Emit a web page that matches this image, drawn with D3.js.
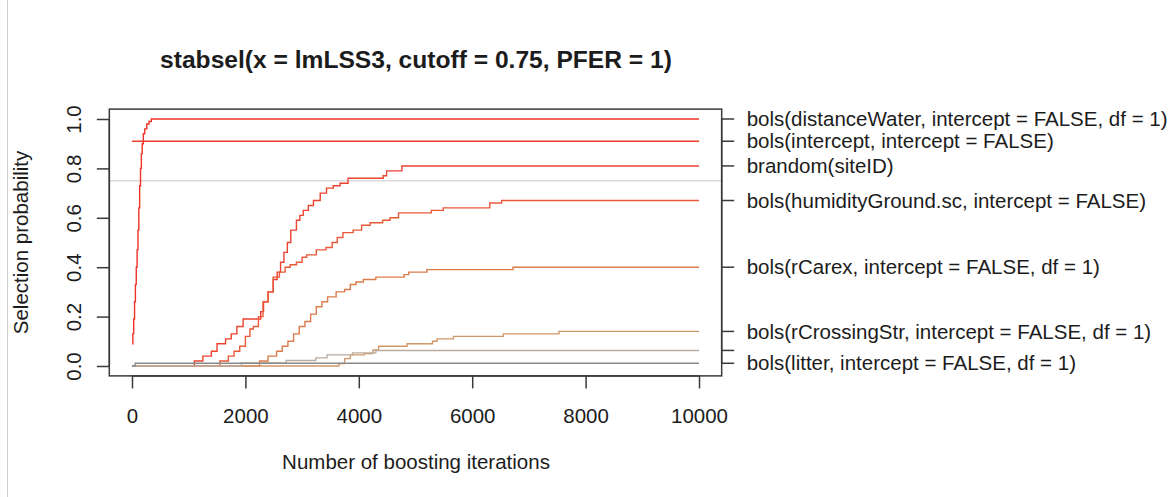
<!DOCTYPE html>
<html>
<head>
<meta charset="utf-8">
<script src="https://cdn.jsdelivr.net/npm/d3@7"></script>
<style>
  body { margin: 0; background: #fff; }
  svg { display: block; font-family: "Liberation Sans", Arial, Helvetica, sans-serif; }
</style>
</head>
<body>
<svg id="chart" width="1176" height="497"></svg>
<script>
// ---- text ----
const titleText = "stabsel(x = lmLSS3, cutoff = 0.75, PFER = 1)";
const xLabel = "Number of boosting iterations";
const yLabel = "Selection probability";

// ---- axes ----
const xTicks = [0, 2000, 4000, 6000, 8000, 10000];
const yTicks = [0, 0.2, 0.4, 0.6, 0.8, 1.0];
const nIter = 10000;
const cutoff = 0.75;

// ---- base-learner labels on the right axis ("" = label dropped by overlap) ----
const learnerLabels = [
  "bols(distanceWater, intercept = FALSE, df = 1)",
  "bols(intercept, intercept = FALSE)",
  "brandom(siteID)",
  "bols(humidityGround.sc, intercept = FALSE)",
  "bols(rCarex, intercept = FALSE, df = 1)",
  "bols(rCrossingStr, intercept = FALSE, df = 1)",
  "",
  "bols(litter, intercept = FALSE, df = 1)"
];

// hcl(h = 40, l = 50, c ~ max selection prob)
const pathColors = [
  "#ef3328", "#ef3a2d", "#ec4330", "#ea5a38",
  "#dc7c4a", "#cf9868", "#bcab9f", "#8a8a8a"
];

// ---- selection paths: [iteration, probability] at each change ----
const pathDistanceWater = [[1,0.09],[15,0.13],[30,0.19],[45,0.26],[60,0.33],[75,0.40],[90,0.47],[105,0.55],[120,0.64],[135,0.73],[150,0.80],[165,0.86],[180,0.90],[200,0.94],[225,0.96],[260,0.98],[300,0.99],[340,1.0]];
const pathIntercept = [[1,0.91]];
const pathSiteID = [[1,0],[1100,0.02],[1250,0.04],[1400,0.06],[1500,0.09],[1650,0.11],[1750,0.13],[1850,0.16],[1960,0.19],[2270,0.22],[2320,0.26],[2400,0.30],[2490,0.35],[2560,0.38],[2620,0.42],[2680,0.46],[2740,0.50],[2800,0.55],[2900,0.59],[2960,0.61],[3020,0.63],[3110,0.65],[3200,0.67],[3320,0.70],[3430,0.72],[3550,0.73],[3670,0.74],[3810,0.76],[4430,0.77],[4490,0.79],[4610,0.79],[4760,0.81]];
const pathHumidity = [[1,0],[1550,0.02],[1700,0.04],[1800,0.06],[1900,0.08],[2000,0.12],[2080,0.15],[2140,0.16],[2230,0.20],[2310,0.26],[2400,0.30],[2490,0.36],[2600,0.38],[2700,0.40],[2790,0.41],[2900,0.42],[3000,0.44],[3080,0.45],[3250,0.47],[3420,0.48],[3530,0.50],[3620,0.52],[3720,0.54],[3900,0.55],[4050,0.57],[4200,0.58],[4420,0.59],[4550,0.60],[4700,0.62],[5280,0.63],[5490,0.64],[6310,0.66],[6520,0.67]];
const pathCarex = [[1,0],[2250,0.02],[2400,0.04],[2550,0.06],[2650,0.08],[2750,0.10],[2850,0.13],[2950,0.16],[3050,0.18],[3150,0.21],[3250,0.24],[3350,0.26],[3450,0.28],[3600,0.30],[3750,0.31],[3850,0.33],[3950,0.34],[4080,0.35],[4300,0.36],[4800,0.37],[4880,0.38],[5200,0.39],[6720,0.40]];
const pathCrossing = [[1,0],[3650,0.01],[3750,0.03],[3850,0.045],[4100,0.05],[4250,0.065],[4350,0.08],[4850,0.09],[5300,0.10],[5380,0.11],[5670,0.12],[6550,0.13],[7530,0.14]];
const pathMinor = [[1,0],[1930,0.012],[2720,0.022],[3240,0.033],[3440,0.045],[3890,0.053],[4300,0.063]];
const pathLitter = [[1,0],[55,0.011]];

const paths = [pathDistanceWater, pathIntercept, pathSiteID, pathHumidity,
               pathCarex, pathCrossing, pathMinor, pathLitter];

// ---- layout ----
const svg = d3.select("#chart");
const W = 1176, H = 497;
const x = d3.scaleLinear().domain([0, nIter]).range([132, 699]);
const y = d3.scaleLinear().domain([0, 1]).range([366, 119]);
const pad = 0.04;
const xr = [x(-pad * nIter), x(nIter * (1 + pad))];
const yr = [y(1 + pad), y(-pad)];
const fs = 20.5;
const tick = 12.5;
const ink = "#1c1c1c";
const axisInk = "#3a3a3a";

// device border
svg.append("line").attr("x1", 7.5).attr("x2", 7.5).attr("y1", 0).attr("y2", H)
  .attr("stroke", "#cfcfcf").attr("stroke-width", 1);

// cutoff line
svg.append("line")
  .attr("x1", xr[0]).attr("x2", xr[1])
  .attr("y1", y(cutoff)).attr("y2", y(cutoff))
  .attr("stroke", "#d9d9d9").attr("stroke-width", 1.5);

// selection paths, drawn in learner order
const line = d3.line().x(d => x(d[0])).y(d => y(d[1])).curve(d3.curveStepAfter);
const g = svg.append("g");
paths.forEach((p, i) => {
  const pts = p.concat([[nIter, p[p.length - 1][1]]]);
  g.append("path").attr("d", line(pts))
    .attr("fill", "none").attr("stroke", pathColors[i])
    .attr("stroke-width", 1.4).attr("stroke-linejoin", "miter");
});

// box
svg.append("rect")
  .attr("x", xr[0]).attr("y", yr[0])
  .attr("width", xr[1] - xr[0]).attr("height", yr[1] - yr[0])
  .attr("fill", "none").attr("stroke", axisInk).attr("stroke-width", 1.5);

// x axis
const xAxis = d3.axisBottom(x).tickValues(xTicks).tickSize(tick).tickPadding(20)
  .tickFormat(d3.format("d"));
const gx = svg.append("g").attr("transform", `translate(0,${yr[1]})`).call(xAxis);
gx.select(".domain").attr("d", `M${x(0)},0H${x(nIter)}`).attr("stroke", axisInk).attr("stroke-width", 1.5);
gx.selectAll(".tick line").attr("stroke", axisInk).attr("stroke-width", 1.5);
gx.selectAll(".tick text").attr("font-size", fs).attr("fill", ink)
  .attr("font-family", "Liberation Sans, Arial, sans-serif");

// y axis (labels parallel to axis)
const yAxis = d3.axisLeft(y).tickValues(yTicks).tickSize(tick).tickFormat(d3.format(".1f"));
const gy = svg.append("g").attr("transform", `translate(${xr[0]},0)`).call(yAxis);
gy.select(".domain").attr("d", `M0,${y(0)}V${y(1)}`).attr("stroke", axisInk).attr("stroke-width", 1.5);
gy.selectAll(".tick line").attr("stroke", axisInk).attr("stroke-width", 1.5);
gy.selectAll(".tick text")
  .attr("x", null).attr("dy", null)
  .attr("transform", `translate(${81 - xr[0]},0) rotate(-90)`)
  .attr("text-anchor", "middle")
  .attr("font-size", fs).attr("fill", ink)
  .attr("font-family", "Liberation Sans, Arial, sans-serif");

// right axis: final selection probabilities
const finals = paths.map(p => p[p.length - 1][1]);
const gr = svg.append("g").attr("transform", `translate(${xr[1]},0)`);
gr.append("path").attr("d", `M0,${y(d3.min(finals))}V${y(d3.max(finals))}`)
  .attr("stroke", axisInk).attr("stroke-width", 1.5).attr("fill", "none");
gr.selectAll("line.tk").data(finals).join("line").attr("class", "tk")
  .attr("x1", 0).attr("x2", tick).attr("y1", d => y(d)).attr("y2", d => y(d))
  .attr("stroke", axisInk).attr("stroke-width", 1.5);
gr.selectAll("text.lb").data(finals).join("text").attr("class", "lb")
  .attr("x", 25).attr("y", d => y(d)).attr("dy", "0.35em")
  .attr("font-size", fs).attr("fill", ink)
  .text((d, i) => learnerLabels[i]);

// titles
svg.append("text").attr("x", 416).attr("y", 68).attr("text-anchor", "middle")
  .attr("font-size", 24.6).attr("font-weight", "bold").attr("fill", ink).text(titleText);
svg.append("text").attr("x", 416).attr("y", 469).attr("text-anchor", "middle")
  .attr("font-size", fs).attr("fill", ink).text(xLabel);
svg.append("text").attr("transform", `translate(28,${(yr[0] + yr[1]) / 2}) rotate(-90)`)
  .attr("text-anchor", "middle").attr("font-size", fs).attr("fill", ink).text(yLabel);
</script>
</body>
</html>
